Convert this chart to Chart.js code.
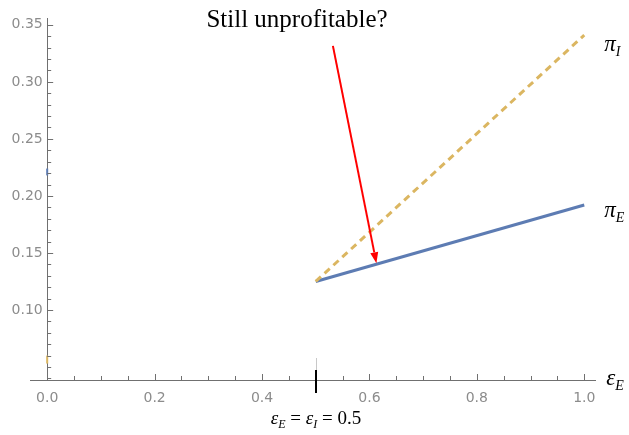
<!DOCTYPE html>
<html>
<head>
<meta charset="utf-8">
<script src="https://cdn.jsdelivr.net/npm/chart.js@4.4.1/dist/chart.umd.min.js"></script>
<style>
html, body { margin: 0; padding: 0; background: #fff; }
</style>
</head>
<body>
<canvas id="myChart" width="629" height="435"></canvas>
<script>
'use strict';
// values
let epsValues = [0.5, 1.0];
let piIncumbent = [0.125, 0.341];
let piEntrant = [0.125, 0.192];
// the two little stubs sitting on the y axis at eps = 0
let stubEps = [0, 0];
let stubPiE = [0.218, 0.224];
let stubPiI = [0.053, 0.060];

let xTickLabels = [0.0, 0.2, 0.4, 0.6, 0.8, 1.0];
let yTickLabels = [0.10, 0.15, 0.20, 0.25, 0.30, 0.35];
let xMinorStep = 0.05;
let yMinorStep = 0.01;

let xMin = -0.032, xMax = 1.02;
let yMin = 0.0386, yMax = 0.356;

let blue = '#5d7cb3';
let gold = '#dbb661';
let tickGrey = '#8c8c8c';
let axisGrey = '#707070';

function toPts(xs, ys) {
    let pts = [];
    for (let i = 0; i < xs.length; i++) {
        pts.push({x: xs[i], y: ys[i]});
    }
    return pts;
}

function minorList(from, to, step) {
    let list = [];
    let n = Math.round((to - from) / step);
    for (let i = 0; i <= n; i++) {
        list.push(+(from + i * step).toFixed(4));
    }
    return list;
}

// italic letter with a subscript, serif, like the Mathematica labels
function greekLabel(ctx, x, y, main, sub, size) {
    ctx.font = 'italic ' + size + 'px "Liberation Serif"';
    ctx.textAlign = 'left';
    ctx.textBaseline = 'alphabetic';
    ctx.fillText(main, x, y);
    let w = ctx.measureText(main).width;
    ctx.font = 'italic ' + Math.round(size * 0.62) + 'px "Liberation Serif"';
    ctx.fillText(sub, x + w, y + size * 0.22);
    return w + ctx.measureText(sub).width;
}

let mathTicks = {
    id: 'mathTicks',
    afterDraw(chart) {
        let ctx = chart.ctx;
        let xs = chart.scales.x;
        let ys = chart.scales.y;
        let axisX = xs.getPixelForValue(0);
        let axisY = ys.getPixelForValue(yMin);

        ctx.save();
        ctx.strokeStyle = axisGrey;
        ctx.lineWidth = 1;

        // y ticks point into the plot
        let yMinor = minorList(0.04, 0.35, yMinorStep);
        yMinor.forEach(function(v) {
            let major = yTickLabels.some(t => Math.abs(t - v) < 1e-6);
            let py = Math.round(ys.getPixelForValue(v)) + 0.5;
            ctx.beginPath();
            ctx.moveTo(axisX, py);
            ctx.lineTo(axisX + (major ? 6 : 4), py);
            ctx.stroke();
        });

        // x ticks point up
        let xMinor = minorList(0.05, 1.0, xMinorStep);
        xMinor.forEach(function(v) {
            let major = xTickLabels.some(t => Math.abs(t - v) < 1e-6);
            let px = Math.round(xs.getPixelForValue(v)) + 0.5;
            ctx.beginPath();
            ctx.moveTo(px, axisY);
            ctx.lineTo(px, axisY - (major ? 6 : 4));
            ctx.stroke();
        });

        // marker at eps = 0.5
        let mx = Math.round(xs.getPixelForValue(0.5));
        ctx.strokeStyle = '#c8c8c8';
        ctx.beginPath();
        ctx.moveTo(mx + 0.5, axisY - 22);
        ctx.lineTo(mx + 0.5, axisY - 10);
        ctx.stroke();
        ctx.strokeStyle = '#000';
        ctx.lineWidth = 2;
        ctx.beginPath();
        ctx.moveTo(mx, axisY - 10);
        ctx.lineTo(mx, axisY + 13);
        ctx.stroke();

        // labels on the right
        ctx.fillStyle = '#000';
        let endX = xs.getPixelForValue(1.0);
        greekLabel(ctx, endX + 20, ys.getPixelForValue(piIncumbent[1]) + 16, '\u03c0', 'I', 23);
        greekLabel(ctx, endX + 20, ys.getPixelForValue(piEntrant[1]) + 12, '\u03c0', 'E', 23);
        greekLabel(ctx, endX + 22, axisY + 5, '\u03b5', 'E', 23);

        // eps_E = eps_I = 0.5 under the marker
        let size = 19;
        let parts = [['\u03b5', 'E'], ['\u03b5', 'I']];
        ctx.font = size + 'px "Liberation Serif"';
        let eqW = ctx.measureText(' =  = 0.5').width;
        ctx.font = 'italic ' + size + 'px "Liberation Serif"';
        let epsW = ctx.measureText('\u03b5').width;
        ctx.font = 'italic ' + Math.round(size * 0.62) + 'px "Liberation Serif"';
        let subW = ctx.measureText('E').width + ctx.measureText('I').width;
        let total = eqW + 2 * epsW + subW;
        let lx = mx - total / 2;
        let by = axisY + 44;
        lx += greekLabel(ctx, lx, by, parts[0][0], parts[0][1], size);
        ctx.font = size + 'px "Liberation Serif"';
        ctx.fillText(' = ', lx, by);
        lx += ctx.measureText(' = ').width;
        lx += greekLabel(ctx, lx, by, parts[1][0], parts[1][1], size);
        ctx.font = size + 'px "Liberation Serif"';
        ctx.fillText(' = 0.5', lx, by);

        // question and red arrow
        ctx.font = '25px "Liberation Serif"';
        ctx.textAlign = 'center';
        ctx.fillText('Still unprofitable?', 297, 27);

        let ax0 = xs.getPixelForValue(0.532), ay0 = ys.getPixelForValue(0.3316);
        let ax1 = xs.getPixelForValue(0.613), ay1 = ys.getPixelForValue(0.141);
        let ang = Math.atan2(ay1 - ay0, ax1 - ax0);
        let head = 11;
        ctx.strokeStyle = '#ff0000';
        ctx.fillStyle = '#ff0000';
        ctx.lineWidth = 2;
        ctx.beginPath();
        ctx.moveTo(ax0, ay0);
        ctx.lineTo(ax1 - head * Math.cos(ang), ay1 - head * Math.sin(ang));
        ctx.stroke();
        ctx.beginPath();
        ctx.moveTo(ax1, ay1);
        ctx.lineTo(ax1 - head * Math.cos(ang) + 4 * Math.sin(ang), ay1 - head * Math.sin(ang) - 4 * Math.cos(ang));
        ctx.lineTo(ax1 - head * Math.cos(ang) - 4 * Math.sin(ang), ay1 - head * Math.sin(ang) + 4 * Math.cos(ang));
        ctx.closePath();
        ctx.fill();
        ctx.restore();
    }
};

let ctx = document.getElementById('myChart').getContext('2d');
let myChart = new Chart(ctx, {
    type: 'line',
    data: {
        datasets: [{
            label: 'pi_I',
            data: toPts(epsValues, piIncumbent),
            borderColor: gold,
            borderWidth: 3,
            borderDash: [7, 5],
            pointRadius: 0
        }, {
            label: 'pi_E',
            data: toPts(epsValues, piEntrant),
            borderColor: blue,
            borderWidth: 3,
            pointRadius: 0
        }, {
            label: 'stub E',
            data: toPts(stubEps, stubPiE),
            borderColor: blue,
            borderWidth: 2,
            pointRadius: 0
        }, {
            label: 'stub I',
            data: toPts(stubEps, stubPiI),
            borderColor: gold,
            borderWidth: 2,
            pointRadius: 0
        }]
    },
    options: {
        responsive: false,
        animation: false,
        devicePixelRatio: 1,
        layout: {
            padding: {left: 30, right: 34, top: 18, bottom: 55}
        },
        plugins: {
            legend: {display: false},
            tooltip: {enabled: false}
        },
        scales: {
            x: {
                type: 'linear',
                position: {y: yMin},
                min: xMin,
                max: xMax,
                grid: {display: false, drawTicks: false},
                border: {color: axisGrey, width: 1},
                afterBuildTicks: function(scale) {
                    scale.ticks = xTickLabels.map(v => ({value: v}));
                },
                ticks: {
                    color: tickGrey,
                    padding: 10,
                    autoSkip: false,
                    maxRotation: 0,
                    font: {family: 'DejaVu Sans', size: 14},
                    callback: v => v.toFixed(1)
                }
            },
            y: {
                type: 'linear',
                position: {x: 0},
                min: yMin,
                max: yMax,
                grid: {display: false, drawTicks: false},
                border: {color: axisGrey, width: 1},
                afterBuildTicks: function(scale) {
                    scale.ticks = yTickLabels.map(v => ({value: v}));
                },
                ticks: {
                    color: tickGrey,
                    autoSkip: false,
                    font: {family: 'DejaVu Sans', size: 14},
                    // trailing space keeps the label off the axis line
                    callback: v => v.toFixed(2) + ' '
                }
            }
        }
    },
    plugins: [mathTicks]
});
</script>
</body>
</html>
